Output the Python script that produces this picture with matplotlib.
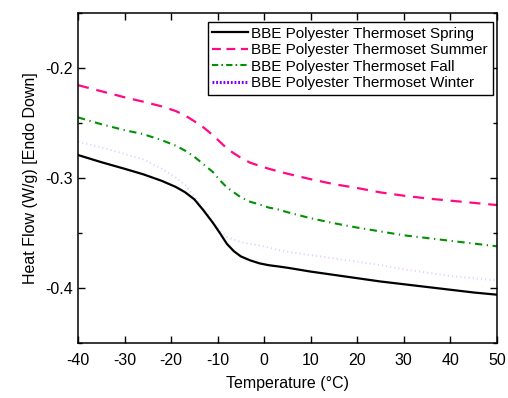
import matplotlib
matplotlib.use("Agg")
import matplotlib.pyplot as plt
from matplotlib.lines import Line2D
from matplotlib.ticker import MultipleLocator

plt.rcParams['font.family'] = ['Liberation Sans', 'DejaVu Sans']

temps = [-40, -35, -30, -26, -22, -19, -17, -15, -13, -11, -9.5, -8, -6.5, -5,
         -3, -1, 1, 3, 5, 10, 15, 20, 25, 30, 35, 40, 45, 50]
spring = [-0.2790, -0.2855, -0.2915, -0.2965, -0.3025, -0.3080, -0.3128, -0.3193,
          -0.3295, -0.3407, -0.3500, -0.3598, -0.3665, -0.3712, -0.3748, -0.3775,
          -0.3792, -0.3803, -0.3815, -0.3850, -0.3880, -0.3910, -0.3940, -0.3965,
          -0.3990, -0.4015, -0.4040, -0.4060]
summer = [-0.2155, -0.2210, -0.2265, -0.2305, -0.2348, -0.2390, -0.2430, -0.2483,
          -0.2540, -0.2610, -0.2670, -0.2730, -0.2775, -0.2815, -0.2860, -0.2888,
          -0.2915, -0.2938, -0.2960, -0.3010, -0.3055, -0.3090, -0.3130, -0.3160,
          -0.3185, -0.3205, -0.3225, -0.3245]
fall = [-0.2448, -0.2510, -0.2564, -0.2600, -0.2655, -0.2705, -0.2750, -0.2806,
        -0.2875, -0.2945, -0.3020, -0.3085, -0.3130, -0.3175, -0.3215, -0.3240,
        -0.3268, -0.3285, -0.3310, -0.3365, -0.3410, -0.3450, -0.3485, -0.3520,
        -0.3545, -0.3570, -0.3595, -0.3620]
winter = [-0.2670, -0.2720, -0.2780, -0.2830, -0.2915, -0.2995, -0.3060, -0.3170,
          -0.3290, -0.3400, -0.3480, -0.3535, -0.3560, -0.3582, -0.3598, -0.3612,
          -0.3630, -0.3655, -0.3670, -0.3700, -0.3730, -0.3760, -0.3790, -0.3830,
          -0.3860, -0.3890, -0.3910, -0.3930]
labels = ["BBE Polyester Thermoset Spring", "BBE Polyester Thermoset Summer",
          "BBE Polyester Thermoset Fall", "BBE Polyester Thermoset Winter"]
xticks = [-40, -30, -20, -10, 0, 10, 20, 30, 40, 50]
yticks = [-0.2, -0.3, -0.4]

fig = plt.figure(figsize=(5.08, 3.98), dpi=100)
ax = fig.add_axes([0.1535, 0.138, 0.8245, 0.829])

pink = '#FF0A84'
green = '#009000'
purple = '#8000FF'

ax.plot(temps, winter, color=purple, lw=1.5, linestyle=(0, (0.6, 1.4)), alpha=0.18)
ax.plot(temps, spring, color='black', lw=1.6)
ax.plot(temps, summer, color=pink, lw=1.6, linestyle=(0, (5, 3.5)))
ax.plot(temps, fall, color=green, lw=1.5, linestyle=(0, (3.5, 2.2, 0.6, 2.2)))

handles = [
    Line2D([], [], color='black', lw=1.6),
    Line2D([], [], color=pink, lw=1.6, linestyle=(0, (4, 2.5))),
    Line2D([], [], color=green, lw=1.5, linestyle=(0, (3, 1.5, 0.8, 1.5))),
    Line2D([], [], color=purple, lw=2.2, linestyle=(0, (0.6, 0.6))),
]
leg = ax.legend(handles, labels, loc='upper right', bbox_to_anchor=(0.99, 0.973),
                fontsize=11.0, frameon=True, fancybox=False, edgecolor='black',
                framealpha=1, handlelength=2.35, handletextpad=0.2,
                borderpad=0.3, labelspacing=0.17, borderaxespad=0.0)
leg.get_frame().set_linewidth(1.0)

ax.set_xlim(-40, 50)
ax.set_ylim(-0.45, -0.15)
ax.set_xticks(xticks)
ax.set_xticklabels([str(t) for t in xticks])
ax.set_yticks(yticks)
ax.set_yticklabels([f"{t:.1f}" for t in yticks])
ax.yaxis.set_minor_locator(MultipleLocator(0.05))
ax.tick_params(which='both', direction='in', top=True, right=True, labelsize=11.5,
               width=1.0)
ax.tick_params(which='major', length=5)
ax.tick_params(which='minor', length=3)
ax.tick_params(axis='x', pad=7)
for s in ax.spines.values():
    s.set_linewidth(1.1)

ax.set_xlabel("Temperature (°C)", fontsize=11.5, labelpad=6)
ax.set_ylabel("Heat Flow (W/g) [Endo Down]", fontsize=11.5, labelpad=5)

fig.savefig("out.png", dpi=100)
